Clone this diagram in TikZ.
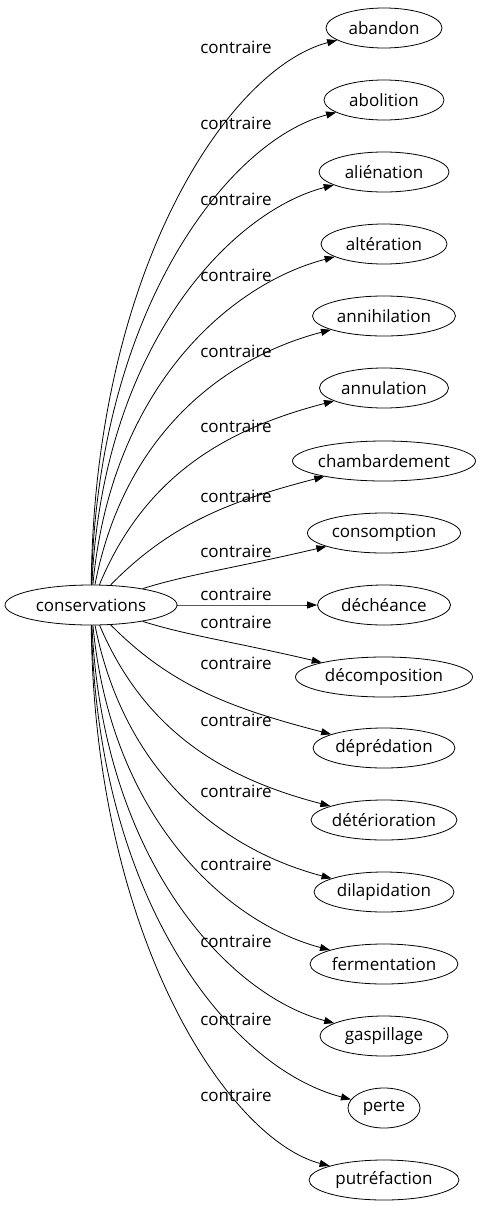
\documentclass[tikz,border=0pt]{standalone}
\usepackage{fontspec}
\setmainfont{Open Sans}
\usetikzlibrary{arrows.meta, shapes.geometric}

\tikzset{
  word/.style={draw, ellipse, line width=0.8pt, minimum height=40pt, inner sep=0pt},
  rel/.style={inner sep=1pt},
  link/.style={line width=0.8pt, -{Triangle[length=10pt,width=7pt]}}
}

\begin{document}
\begin{tikzpicture}[x=1pt, y=-1pt, font=\fontsize{17}{20}\selectfont]
  \useasboundingbox (0,0) rectangle (490,1211);
  \node[word, minimum width=172pt] (cons) at (91,605) {\makebox[0pt]{conservations}};
  \foreach \name/\word/\wdt/\ty/\ly in {abandon/abandon/116/28/47, abolition/abolition/120/100/123,
      alienation/aliénation/130/172/199, alteration/altération/126/244/275,
      annihilation/annihilation/143/316/351, annulation/annulation/129/388/426,
      chambardement/chambardement/183/461/496, consomption/consomption/153/533/551,
      decheance/déchéance/133/605/594, decomposition/décomposition/177/677/622,
      depredation/déprédation/142/748/663, deterioration/détérioration/146/820/720,
      dilapidation/dilapidation/140/892/791, fermentation/fermentation/148/964/864,
      gaspillage/gaspillage/128/1036/941, perte/perte/72/1108/1019,
      putrefaction/putréfaction/150/1180/1095} {
    \node[word, minimum width=\wdt pt] (\name) at (384,\ty) {\makebox[0pt]{\word}};
    \node[rel] (l\name) at (236,\ly) {contraire};
    % bend of the edge grows with the vertical distance
    \pgfmathsetmacro\dd{\ty-605}
    \pgfmathsetmacro\ad{abs(\dd)}
    \pgfmathsetmacro\sg{ifthenelse(\dd<0,-1,1)}
    \pgfmathsetmacro\th{90*(1-exp(-\ad/100))}
    \pgfmathsetmacro\ph{\th*\th/90}
    \pgfmathsetmacro\sx{91+86*cos(\th)}
    \pgfmathsetmacro\sy{605+\sg*20*sin(\th)}
    \pgfmathsetmacro\lo{0.55*\ad}
    \pgfmathsetmacro\cx{\sx+\lo*cos(\ph)}
    \pgfmathsetmacro\cy{\sy+\sg*\lo*sin(\ph)}
    \pgfmathsetmacro\ey{\ty-\sg*min(0.5*\ad,40)}
    \draw[link] (cons) .. controls (\cx,\cy) and (230,\ey) .. (\name);
  }
\end{tikzpicture}
\end{document}
